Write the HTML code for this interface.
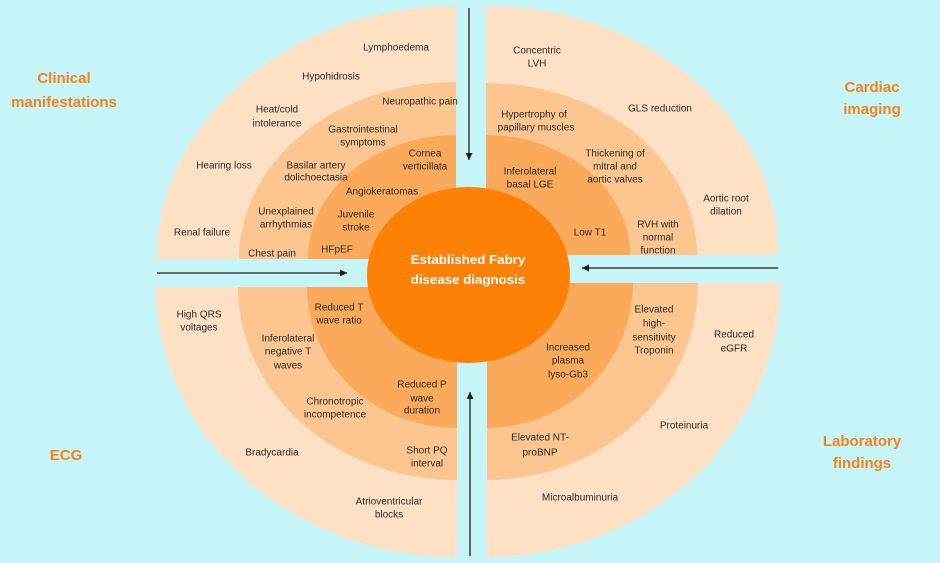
<!DOCTYPE html>
<html>
<head>
<meta charset="utf-8">
<style>
html,body{margin:0;padding:0;background:#c7f4f6;}
svg{display:block;}
.l{font-family:"Liberation Sans",sans-serif;font-size:10px;fill:#2a2a2a;text-anchor:middle;}
.t{font-family:"Liberation Sans",sans-serif;font-size:15px;font-weight:bold;fill:#f5821f;text-anchor:middle;}
.c{font-family:"Liberation Sans",sans-serif;font-size:13.3px;font-weight:bold;fill:#ffffff;text-anchor:middle;}
</style>
</head>
<body>
<svg width="940" height="563" viewBox="0 0 940 563" xmlns="http://www.w3.org/2000/svg">
<defs>
<clipPath id="ctl"><rect x="0" y="0" width="456" height="259"/></clipPath>
<clipPath id="ctr"><rect x="486" y="0" width="454" height="255"/></clipPath>
<clipPath id="cbl"><rect x="0" y="287" width="457" height="276"/></clipPath>
<clipPath id="cbr"><rect x="487" y="283" width="453" height="280"/></clipPath>
<marker id="ah" viewBox="0 0 10 10" refX="10" refY="5" markerWidth="7" markerHeight="7" orient="auto" markerUnits="userSpaceOnUse">
<path d="M0,0 L10,5 L0,10 z" fill="#1e1e1e"/>
</marker>
</defs>
<rect width="940" height="563" fill="#c7f4f6"/>

<!-- Top-left -->
<g clip-path="url(#ctl)">
<ellipse cx="456" cy="259" rx="299" ry="253" fill="#fee0c4"/>
<ellipse cx="456" cy="259" rx="217" ry="177" fill="#fdc690"/>
<ellipse cx="456" cy="259" rx="148" ry="124" fill="#fbaa5c"/>
</g>
<!-- Top-right -->
<g clip-path="url(#ctr)">
<ellipse cx="486" cy="255" rx="292" ry="249" fill="#fee0c4"/>
<ellipse cx="486" cy="255" rx="211" ry="172" fill="#fdc690"/>
<ellipse cx="486" cy="255" rx="144" ry="120" fill="#fbaa5c"/>
</g>
<!-- Bottom-left -->
<g clip-path="url(#cbl)">
<ellipse cx="457" cy="287" rx="301" ry="270" fill="#fee0c4"/>
<ellipse cx="457" cy="287" rx="219" ry="193" fill="#fdc690"/>
<ellipse cx="457" cy="287" rx="150" ry="141" fill="#fbaa5c"/>
</g>
<!-- Bottom-right -->
<g clip-path="url(#cbr)">
<ellipse cx="487" cy="283" rx="293" ry="274" fill="#fee0c4"/>
<ellipse cx="487" cy="283" rx="211" ry="197" fill="#fdc690"/>
<ellipse cx="487" cy="283" rx="146" ry="145" fill="#fbaa5c"/>
</g>

<!-- center -->
<ellipse cx="468.5" cy="275" rx="101.5" ry="88" fill="#fd8107"/>
<text class="c" x="468" y="264">Established Fabry</text>
<text class="c" x="468" y="284">disease diagnosis</text>

<!-- arrows -->
<line x1="469" y1="8" x2="469" y2="160" stroke="#1e1e1e" stroke-width="1.3" marker-end="url(#ah)"/>
<line x1="157" y1="273" x2="347" y2="273" stroke="#1e1e1e" stroke-width="1.3" marker-end="url(#ah)"/>
<line x1="778" y1="268" x2="582" y2="268" stroke="#1e1e1e" stroke-width="1.3" marker-end="url(#ah)"/>
<line x1="470" y1="556" x2="470" y2="392" stroke="#1e1e1e" stroke-width="1.3" marker-end="url(#ah)"/>

<!-- titles -->
<text class="t" x="64" y="83">Clinical</text>
<text class="t" x="64" y="107">manifestations</text>
<text class="t" x="872" y="92">Cardiac</text>
<text class="t" x="872" y="114">imaging</text>
<text class="t" x="66" y="460">ECG</text>
<text class="t" x="862" y="446">Laboratory</text>
<text class="t" x="862" y="468">findings</text>

<!-- top-left labels -->
<text class="l" x="396" y="50.5">Lymphoedema</text>
<text class="l" x="331" y="79.5">Hypohidrosis</text>
<text class="l" x="420" y="104.5">Neuropathic pain</text>
<text class="l" x="277" y="112.5">Heat/cold</text>
<text class="l" x="277" y="126.5">intolerance</text>
<text class="l" x="363" y="132.5">Gastrointestinal</text>
<text class="l" x="363" y="145.5">symptoms</text>
<text class="l" x="425" y="156.5">Cornea</text>
<text class="l" x="425" y="169.5">verticillata</text>
<text class="l" x="224" y="168.5">Hearing loss</text>
<text class="l" x="316" y="168.5">Basilar artery</text>
<text class="l" x="316" y="180.5">dolichoectasia</text>
<text class="l" x="382" y="194.5">Angiokeratomas</text>
<text class="l" x="286" y="214.5">Unexplained</text>
<text class="l" x="286" y="227.5">arrhythmias</text>
<text class="l" x="356" y="217.5">Juvenile</text>
<text class="l" x="356" y="230.5">stroke</text>
<text class="l" x="202" y="235.5">Renal failure</text>
<text class="l" x="272" y="256.5">Chest pain</text>
<text class="l" x="337" y="252.5">HFpEF</text>

<!-- top-right labels -->
<text class="l" x="537" y="53.5">Concentric</text>
<text class="l" x="537" y="66.5">LVH</text>
<text class="l" x="660" y="111.5">GLS reduction</text>
<text class="l" x="534" y="117.5">Hypertrophy of</text>
<text class="l" x="536" y="130.5">papillary muscles</text>
<text class="l" x="615" y="156.5">Thickening of</text>
<text class="l" x="615" y="169.5">mitral and</text>
<text class="l" x="615" y="182.5">aortic valves</text>
<text class="l" x="530" y="174.5">Inferolateral</text>
<text class="l" x="530" y="187.5">basal LGE</text>
<text class="l" x="726" y="201.5">Aortic root</text>
<text class="l" x="726" y="214.5">dilation</text>
<text class="l" x="590" y="235.5">Low T1</text>
<text class="l" x="658" y="227.5">RVH with</text>
<text class="l" x="658" y="240.5">normal</text>
<text class="l" x="658" y="253.5">function</text>

<!-- bottom-left labels -->
<text class="l" x="199" y="317.5">High QRS</text>
<text class="l" x="199" y="330.5">voltages</text>
<text class="l" x="339" y="310.5">Reduced T</text>
<text class="l" x="339" y="323.5">wave ratio</text>
<text class="l" x="288" y="341.5">Inferolateral</text>
<text class="l" x="288" y="354.5">negative T</text>
<text class="l" x="288" y="368.5">waves</text>
<text class="l" x="422" y="387.5">Reduced P</text>
<text class="l" x="422" y="401.5">wave</text>
<text class="l" x="422" y="413.5">duration</text>
<text class="l" x="335" y="404.5">Chronotropic</text>
<text class="l" x="335" y="417.5">incompetence</text>
<text class="l" x="272" y="455.5">Bradycardia</text>
<text class="l" x="427" y="453.5">Short PQ</text>
<text class="l" x="427" y="466.5">interval</text>
<text class="l" x="389" y="504.5">Atrioventricular</text>
<text class="l" x="389" y="517.5">blocks</text>

<!-- bottom-right labels -->
<text class="l" x="654" y="312.5">Elevated</text>
<text class="l" x="654" y="326.5">high-</text>
<text class="l" x="654" y="340.5">sensitivity</text>
<text class="l" x="654" y="353.5">Troponin</text>
<text class="l" x="734" y="337.5">Reduced</text>
<text class="l" x="734" y="351.5">eGFR</text>
<text class="l" x="568" y="350.5">Increased</text>
<text class="l" x="568" y="363.5">plasma</text>
<text class="l" x="568" y="377.5">lyso-Gb3</text>
<text class="l" x="684" y="428.5">Proteinuria</text>
<text class="l" x="540" y="440.5">Elevated NT-</text>
<text class="l" x="540" y="455.5">proBNP</text>
<text class="l" x="580" y="500.5">Microalbuminuria</text>
</svg>
</body>
</html>
